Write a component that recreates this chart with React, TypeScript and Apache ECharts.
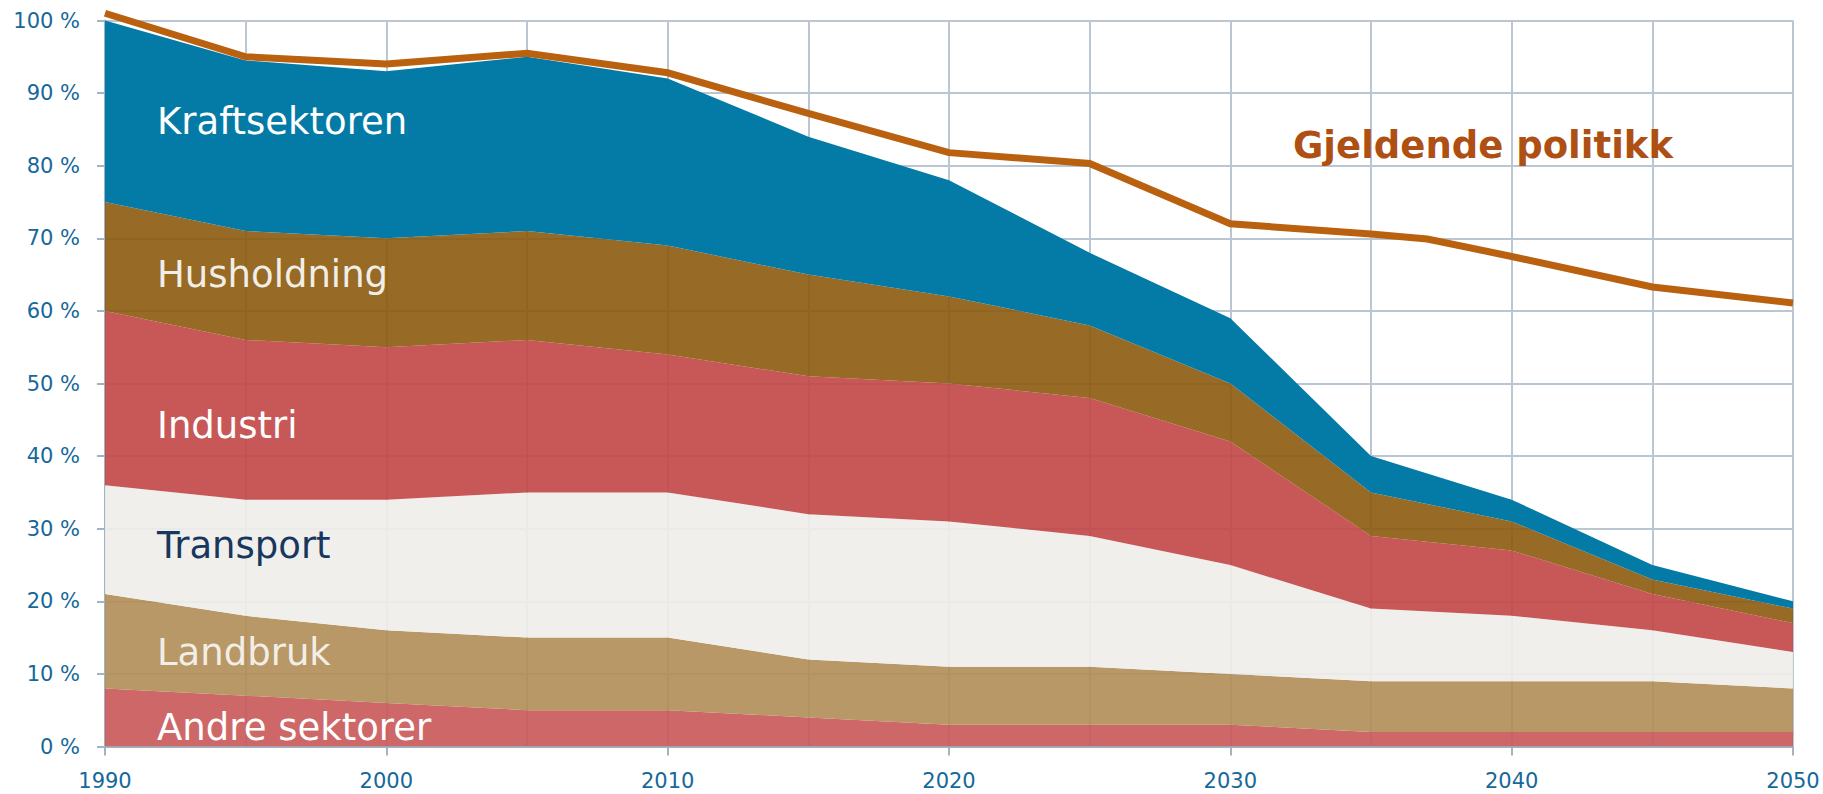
import React, { useEffect, useRef } from "react";
import * as echarts from "echarts";

const years = ["1990", "1995", "2000", "2005", "2010", "2015", "2020", "2025", "2030", "2035", "2040", "2045", "2050"];
const andreSektorer = [8, 7, 6, 5, 5, 4, 3, 3, 3, 2, 2, 2, 2];
const landbruk = [13, 11, 10, 10, 10, 8, 8, 8, 7, 7, 7, 7, 6];
const transport = [15, 16, 18, 20, 20, 20, 20, 18, 15, 10, 9, 7, 5];
const industri = [24, 22, 21, 21, 19, 19, 19, 19, 17, 10, 9, 5, 4];
const husholdning = [15, 15, 15, 15, 15, 14, 12, 10, 8, 6, 4, 2, 2];
const kraftsektoren = [25, 23.5, 23, 24, 23, 19, 16, 10, 9, 5, 3, 2, 1];

const policyYears = [1990, 1995, 2000, 2005, 2010, 2015, 2020, 2025, 2030, 2035, 2037, 2040, 2045, 2050];
const policyValues = [101, 95, 94, 95.5, 92.8, 87.2, 81.8, 80.3, 72, 70.6, 69.9, 67.5, 63.3, 61.1];

const FONT = "DejaVu Sans";
const AXIS_COLOR = "#A2B3C6";
const GRID_COLOR = "#BBC6D3";
const LABEL_COLOR = "#16689A";

export default function App() {
  const ref = useRef<HTMLDivElement>(null);
  useEffect(() => {
    if (!ref.current) return;
    const chart = echarts.init(ref.current, null, { renderer: "svg" });
    const area = (name: string, values: number[], color: string, opacity: number) => ({
      name,
      type: "line",
      stack: "total",
      xAxisIndex: 0,
      data: values,
      showSymbol: false,
      symbol: "none",
      lineStyle: { width: 0 },
      areaStyle: { color, opacity },
      z: 2,
    });
    const labelText = (text: string, y: number, fill: string) => ({
      type: "text",
      left: 157,
      top: y - 17,
      z: 100,
      style: { text, fill, font: `37px '${FONT}'` },
    });
    chart.setOption({
      animation: false,
      grid: { left: 105, right: 30, top: 20.5, bottom: 47.5, containLabel: false },
      xAxis: [
        {
          type: "category",
          data: years,
          boundaryGap: false,
          axisLine: { show: true, lineStyle: { color: AXIS_COLOR, width: 2 } },
          axisTick: { show: true, length: 9, inside: false, interval: 1, lineStyle: { color: AXIS_COLOR, width: 2 } },
          axisLabel: {
            color: LABEL_COLOR,
            fontFamily: FONT,
            fontSize: 21,
            margin: 24,
            interval: 1,
          },
          splitLine: { show: true, interval: 0, lineStyle: { color: GRID_COLOR, width: 2 } },
        },
        {
          type: "value",
          min: 1990,
          max: 2050,
          show: false,
          splitLine: { show: false },
        },
      ],
      yAxis: {
        type: "value",
        min: 0,
        max: 100,
        interval: 10,
        axisLine: { show: true, lineStyle: { color: AXIS_COLOR, width: 2 } },
        axisTick: { show: true, length: 8, inside: false, lineStyle: { color: AXIS_COLOR, width: 2 } },
        axisLabel: {
          color: LABEL_COLOR,
          fontFamily: FONT,
          fontSize: 21,
          margin: 25,
          formatter: (v: number) => `${v} %`,
        },
        splitLine: { show: true, lineStyle: { color: GRID_COLOR, width: 2 } },
      },
      series: [
        area("Andre sektorer", andreSektorer, "#C95858", 0.9),
        area("Landbruk", landbruk, "#B08D56", 0.9),
        area("Transport", transport, "#F0EDEA", 0.9),
        area("Industri", industri, "#C24646", 0.9),
        area("Husholdning", husholdning, "#8C5A0E", 0.9),
        area("Kraftsektoren", kraftsektoren, "#047BA6", 1),
        {
          name: "Gjeldende politikk",
          type: "line",
          xAxisIndex: 1,
          data: policyYears.map((y, i) => [y, policyValues[i]]),
          showSymbol: false,
          symbol: "none",
          clip: false,
          lineStyle: { color: "#BA6110", width: 7, join: "miter" },
          z: 5,
        },
      ],
      graphic: [
        labelText("Kraftsektoren", 120, "#FFFFFF"),
        labelText("Husholdning", 273, "#F1EEE7"),
        labelText("Industri", 424, "#FFFFFF"),
        labelText("Transport", 544, "#17375E"),
        labelText("Landbruk", 651, "#F2EEE6"),
        labelText("Andre sektorer", 726, "#FFFFFF"),
        {
          type: "text",
          left: 1293,
          top: 144 - 17,
          z: 100,
          style: { text: "Gjeldende politikk", fill: "#AE5013", font: `bold 37px '${FONT}'` },
        },
      ],
    });
    return () => chart.dispose();
  }, []);
  return (
    <div
      ref={ref}
      style={{ position: "fixed", left: 0, top: 0, width: 1823, height: 794, background: "#FFFFFF" }}
    />
  );
}
